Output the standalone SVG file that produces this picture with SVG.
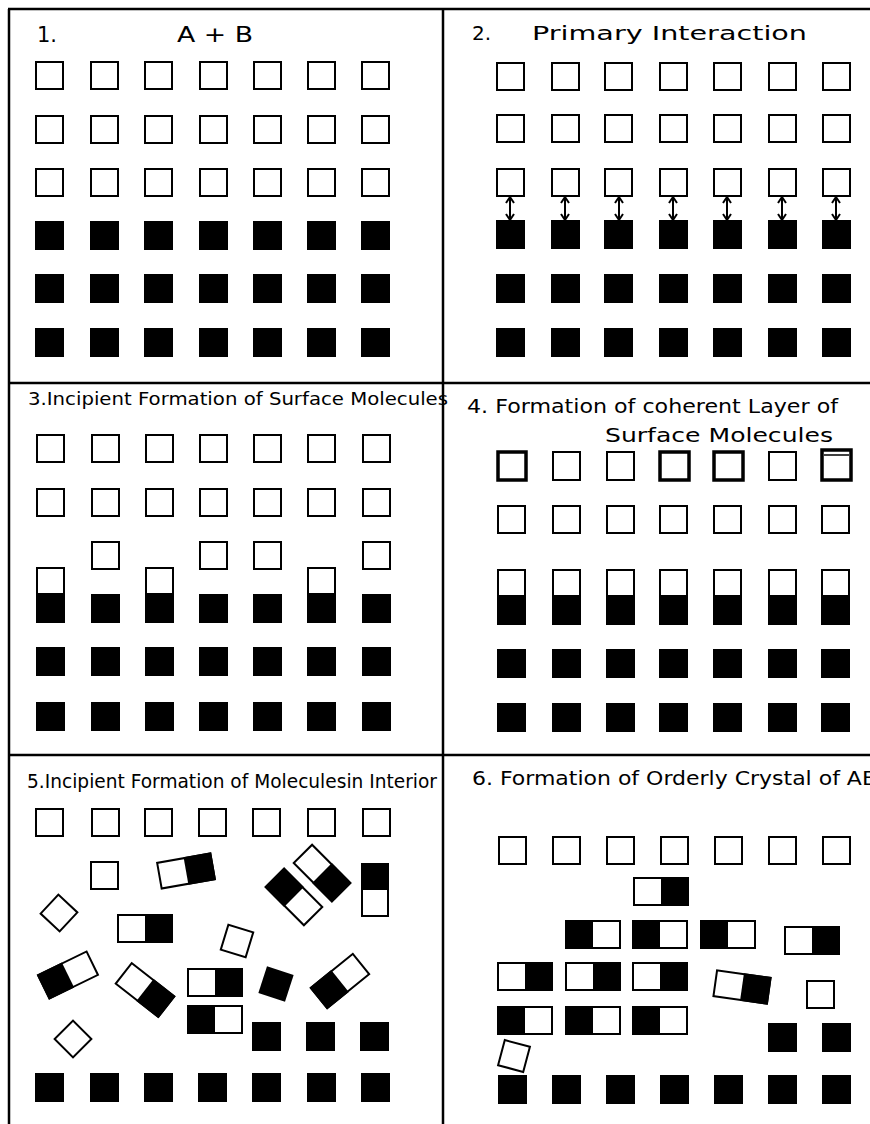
<svg xmlns="http://www.w3.org/2000/svg" width="870" height="1124" viewBox="0 0 870 1124">
<style>
.o{fill:#fff;stroke:#000;stroke-width:2}
.ob{fill:#fff;stroke:#000;stroke-width:3.5}
.b{fill:#000}
.t{font-family:"DejaVu Sans","Liberation Sans",sans-serif;fill:#000}
.ln{stroke:#000;stroke-width:2.5;fill:none}
.ar{stroke:#000;stroke-width:2;fill:none}
</style>
<defs>
<g id="sq"><rect class="o" x="1" y="1" width="27" height="27"/></g>
<g id="bk"><rect class="b" x="0" y="0" width="29" height="29"/></g>
<!-- AB: open left, black right, 56x28 top-left origin -->
<g id="ab"><rect class="o" x="1" y="1" width="54" height="27"/><rect class="b" x="28" y="0" width="28" height="29"/></g>
<g id="ba"><rect class="o" x="1" y="1" width="54" height="27"/><rect class="b" x="0" y="0" width="28" height="29"/></g>
<!-- centered versions for rotation -->
<g id="abc"><rect class="o" x="-27" y="-13" width="54" height="26"/><rect class="b" x="0" y="-14" width="28" height="28"/></g>
<g id="bac"><rect class="o" x="-27" y="-13" width="54" height="26"/><rect class="b" x="-28" y="-14" width="28" height="28"/></g>
<g id="sqc"><rect class="o" x="-13" y="-13" width="26" height="26"/></g>
<g id="bkc"><rect class="b" x="-14" y="-14" width="28" height="28"/></g>
<!-- vertical half: open top, black bottom -->
<g id="vh"><rect class="o" x="1" y="1" width="27" height="54"/><rect class="b" x="0" y="26" width="29" height="30"/></g>
</defs>

<g id="panel1">
<text class="t" x="37" y="42" font-size="21">1.</text>
<text class="t" x="177" y="42" font-size="21" textLength="76" lengthAdjust="spacingAndGlyphs">A + B</text>
<g id="p1-squares">
<use href="#sq" x="35" y="61"/><use href="#sq" x="90" y="61"/><use href="#sq" x="144" y="61"/><use href="#sq" x="199" y="61"/><use href="#sq" x="253" y="61"/><use href="#sq" x="307" y="61"/><use href="#sq" x="361" y="61"/>
<use href="#sq" x="35" y="115"/><use href="#sq" x="90" y="115"/><use href="#sq" x="144" y="115"/><use href="#sq" x="199" y="115"/><use href="#sq" x="253" y="115"/><use href="#sq" x="307" y="115"/><use href="#sq" x="361" y="115"/>
<use href="#sq" x="35" y="168"/><use href="#sq" x="90" y="168"/><use href="#sq" x="144" y="168"/><use href="#sq" x="199" y="168"/><use href="#sq" x="253" y="168"/><use href="#sq" x="307" y="168"/><use href="#sq" x="361" y="168"/>
<use href="#bk" x="35" y="221"/><use href="#bk" x="90" y="221"/><use href="#bk" x="144" y="221"/><use href="#bk" x="199" y="221"/><use href="#bk" x="253" y="221"/><use href="#bk" x="307" y="221"/><use href="#bk" x="361" y="221"/>
<use href="#bk" x="35" y="274"/><use href="#bk" x="90" y="274"/><use href="#bk" x="144" y="274"/><use href="#bk" x="199" y="274"/><use href="#bk" x="253" y="274"/><use href="#bk" x="307" y="274"/><use href="#bk" x="361" y="274"/>
<use href="#bk" x="35" y="328"/><use href="#bk" x="90" y="328"/><use href="#bk" x="144" y="328"/><use href="#bk" x="199" y="328"/><use href="#bk" x="253" y="328"/><use href="#bk" x="307" y="328"/><use href="#bk" x="361" y="328"/>
</g>
</g>

<g id="panel2">
<text class="t" x="472" y="40" font-size="20">2.</text>
<text class="t" x="532" y="40" font-size="20" textLength="275" lengthAdjust="spacingAndGlyphs">Primary Interaction</text>
<g id="p2-squares">
<use href="#sq" x="496" y="62"/><use href="#sq" x="551" y="62"/><use href="#sq" x="604" y="62"/><use href="#sq" x="659" y="62"/><use href="#sq" x="713" y="62"/><use href="#sq" x="768" y="62"/><use href="#sq" x="822" y="62"/>
<use href="#sq" x="496" y="114"/><use href="#sq" x="551" y="114"/><use href="#sq" x="604" y="114"/><use href="#sq" x="659" y="114"/><use href="#sq" x="713" y="114"/><use href="#sq" x="768" y="114"/><use href="#sq" x="822" y="114"/>
<use href="#sq" x="496" y="168"/><use href="#sq" x="551" y="168"/><use href="#sq" x="604" y="168"/><use href="#sq" x="659" y="168"/><use href="#sq" x="713" y="168"/><use href="#sq" x="768" y="168"/><use href="#sq" x="822" y="168"/>
<use href="#bk" x="496" y="220"/><use href="#bk" x="551" y="220"/><use href="#bk" x="604" y="220"/><use href="#bk" x="659" y="220"/><use href="#bk" x="713" y="220"/><use href="#bk" x="768" y="220"/><use href="#bk" x="822" y="220"/>
<use href="#bk" x="496" y="274"/><use href="#bk" x="551" y="274"/><use href="#bk" x="604" y="274"/><use href="#bk" x="659" y="274"/><use href="#bk" x="713" y="274"/><use href="#bk" x="768" y="274"/><use href="#bk" x="822" y="274"/>
<use href="#bk" x="496" y="328"/><use href="#bk" x="551" y="328"/><use href="#bk" x="604" y="328"/><use href="#bk" x="659" y="328"/><use href="#bk" x="713" y="328"/><use href="#bk" x="768" y="328"/><use href="#bk" x="822" y="328"/>
</g>
</g>

<g id="connectors">
<path class="ar" d="M510 197V220M506 203L510 197L514 203M506 214L510 220L514 214"/>
<path class="ar" d="M565 197V220M561 203L565 197L569 203M561 214L565 220L569 214"/>
<path class="ar" d="M619 197V220M615 203L619 197L623 203M615 214L619 220L623 214"/>
<path class="ar" d="M673 197V220M669 203L673 197L677 203M669 214L673 220L677 214"/>
<path class="ar" d="M727 197V220M723 203L727 197L731 203M723 214L727 220L731 214"/>
<path class="ar" d="M782 197V220M778 203L782 197L786 203M778 214L782 220L786 214"/>
<path class="ar" d="M836 197V220M832 203L836 197L840 203M832 214L836 220L840 214"/>
</g>

<g id="panel3">
<text class="t" x="28" y="405" font-size="18" textLength="420" lengthAdjust="spacingAndGlyphs">3.Incipient Formation of Surface Molecules</text>
<use href="#sq" x="36" y="434"/><use href="#sq" x="91" y="434"/><use href="#sq" x="145" y="434"/><use href="#sq" x="199" y="434"/><use href="#sq" x="253" y="434"/><use href="#sq" x="307" y="434"/><use href="#sq" x="362" y="434"/>
<use href="#sq" x="36" y="488"/><use href="#sq" x="91" y="488"/><use href="#sq" x="145" y="488"/><use href="#sq" x="199" y="488"/><use href="#sq" x="253" y="488"/><use href="#sq" x="307" y="488"/><use href="#sq" x="362" y="488"/>
<use href="#sq" x="91" y="541"/><use href="#sq" x="199" y="541"/><use href="#sq" x="253" y="541"/><use href="#sq" x="362" y="541"/>
<use href="#vh" x="36" y="567"/><use href="#vh" x="145" y="567"/><use href="#vh" x="307" y="567"/>
<use href="#bk" x="91" y="594"/><use href="#bk" x="199" y="594"/><use href="#bk" x="253" y="594"/><use href="#bk" x="362" y="594"/>
<use href="#bk" x="36" y="647"/><use href="#bk" x="91" y="647"/><use href="#bk" x="145" y="647"/><use href="#bk" x="199" y="647"/><use href="#bk" x="253" y="647"/><use href="#bk" x="307" y="647"/><use href="#bk" x="362" y="647"/>
<use href="#bk" x="36" y="702"/><use href="#bk" x="91" y="702"/><use href="#bk" x="145" y="702"/><use href="#bk" x="199" y="702"/><use href="#bk" x="253" y="702"/><use href="#bk" x="307" y="702"/><use href="#bk" x="362" y="702"/>
</g>

<g id="panel4">
<text class="t" x="467" y="413" font-size="20" textLength="371" lengthAdjust="spacingAndGlyphs">4. Formation of coherent Layer of</text>
<text class="t" x="605" y="442" font-size="20" textLength="228" lengthAdjust="spacingAndGlyphs">Surface  Molecules</text>
<rect class="ob" x="498" y="452" width="28" height="28"/>
<rect class="o" x="553" y="452" width="27" height="28"/>
<rect class="o" x="607" y="452" width="27" height="28"/>
<rect class="ob" x="660" y="452" width="29" height="28"/>
<rect class="ob" x="714" y="452" width="29" height="28"/>
<rect class="o" x="769" y="452" width="27" height="28"/>
<rect class="ob" x="822" y="450" width="29" height="30"/>
<line x1="824" y1="455" x2="849" y2="455" stroke="#000" stroke-width="1.5"/>
<use href="#sq" x="497" y="505"/><use href="#sq" x="552" y="505"/><use href="#sq" x="606" y="505"/><use href="#sq" x="659" y="505"/><use href="#sq" x="713" y="505"/><use href="#sq" x="768" y="505"/><use href="#sq" x="821" y="505"/>
<use href="#vh" x="497" y="569"/><use href="#vh" x="552" y="569"/><use href="#vh" x="606" y="569"/><use href="#vh" x="659" y="569"/><use href="#vh" x="713" y="569"/><use href="#vh" x="768" y="569"/><use href="#vh" x="821" y="569"/>
<use href="#bk" x="497" y="649"/><use href="#bk" x="552" y="649"/><use href="#bk" x="606" y="649"/><use href="#bk" x="659" y="649"/><use href="#bk" x="713" y="649"/><use href="#bk" x="768" y="649"/><use href="#bk" x="821" y="649"/>
<use href="#bk" x="497" y="703"/><use href="#bk" x="552" y="703"/><use href="#bk" x="606" y="703"/><use href="#bk" x="659" y="703"/><use href="#bk" x="713" y="703"/><use href="#bk" x="768" y="703"/><use href="#bk" x="821" y="703"/>
</g>

<g id="panel5">
<text class="t" x="27" y="788" font-size="19" textLength="410" lengthAdjust="spacingAndGlyphs">5.Incipient Formation of Moleculesin Interior</text>
<use href="#sq" x="35" y="808"/><use href="#sq" x="91" y="808"/><use href="#sq" x="144" y="808"/><use href="#sq" x="198" y="808"/><use href="#sq" x="252" y="808"/><use href="#sq" x="307" y="808"/><use href="#sq" x="362" y="808"/>
<use href="#sq" x="90" y="861"/>
<use href="#abc" transform="translate(186 871) rotate(-10)"/>
<use href="#sqc" transform="translate(59 913) rotate(43)"/>
<use href="#ab" x="117" y="914"/>
<use href="#sqc" transform="translate(237 941) rotate(17)"/>
<use href="#abc" transform="translate(322 873) rotate(45)"/>
<use href="#bac" transform="translate(294 897) rotate(45)"/>
<g id="p5-vert"><rect class="o" x="362" y="864" width="26" height="52"/><rect class="b" x="361" y="863" width="28" height="27"/></g>
<use href="#bac" transform="translate(68 975) rotate(-26)"/>
<use href="#abc" transform="translate(145 990) rotate(38)"/>
<use href="#ab" x="187" y="968"/>
<use href="#ba" x="187" y="1005"/>
<use href="#bkc" transform="translate(276 984) rotate(18)"/>
<use href="#bac" transform="translate(340 981) rotate(-39)"/>
<use href="#sqc" transform="translate(73 1039) rotate(45)"/>
<use href="#bk" x="252" y="1022"/><use href="#bk" x="306" y="1022"/><use href="#bk" x="360" y="1022"/>
<use href="#bk" x="35" y="1073"/><use href="#bk" x="90" y="1073"/><use href="#bk" x="144" y="1073"/><use href="#bk" x="198" y="1073"/><use href="#bk" x="252" y="1073"/><use href="#bk" x="307" y="1073"/><use href="#bk" x="361" y="1073"/>
</g>

<g id="panel6">
<text class="t" x="472" y="785" font-size="20" textLength="405" lengthAdjust="spacingAndGlyphs">6. Formation of Orderly Crystal of AB</text>
<use href="#sq" x="498" y="836"/><use href="#sq" x="552" y="836"/><use href="#sq" x="606" y="836"/><use href="#sq" x="660" y="836"/><use href="#sq" x="714" y="836"/><use href="#sq" x="768" y="836"/><use href="#sq" x="822" y="836"/>
<use href="#ab" x="633" y="877"/>
<use href="#ba" x="565" y="920"/><use href="#ba" x="632" y="920"/><use href="#ba" x="700" y="920"/>
<use href="#ab" x="784" y="926"/>
<use href="#ab" x="497" y="962"/><use href="#ab" x="565" y="962"/><use href="#ab" x="632" y="962"/>
<use href="#abc" transform="translate(742 987) rotate(8)"/>
<use href="#sq" x="806" y="980"/>
<use href="#ba" x="497" y="1006"/><use href="#ba" x="565" y="1006"/><use href="#ba" x="632" y="1006"/>
<use href="#bk" x="768" y="1023"/><use href="#bk" x="822" y="1023"/>
<use href="#sqc" transform="translate(514 1056) rotate(15)"/>
<use href="#bk" x="498" y="1075"/><use href="#bk" x="552" y="1075"/><use href="#bk" x="606" y="1075"/><use href="#bk" x="660" y="1075"/><use href="#bk" x="714" y="1075"/><use href="#bk" x="768" y="1075"/><use href="#bk" x="822" y="1075"/>
</g>

<g id="frame">
<path class="ln" d="M8 9H870M9 9V1124M443 9V1124M9 383H870M9 755H870"/>
</g>
</svg>
